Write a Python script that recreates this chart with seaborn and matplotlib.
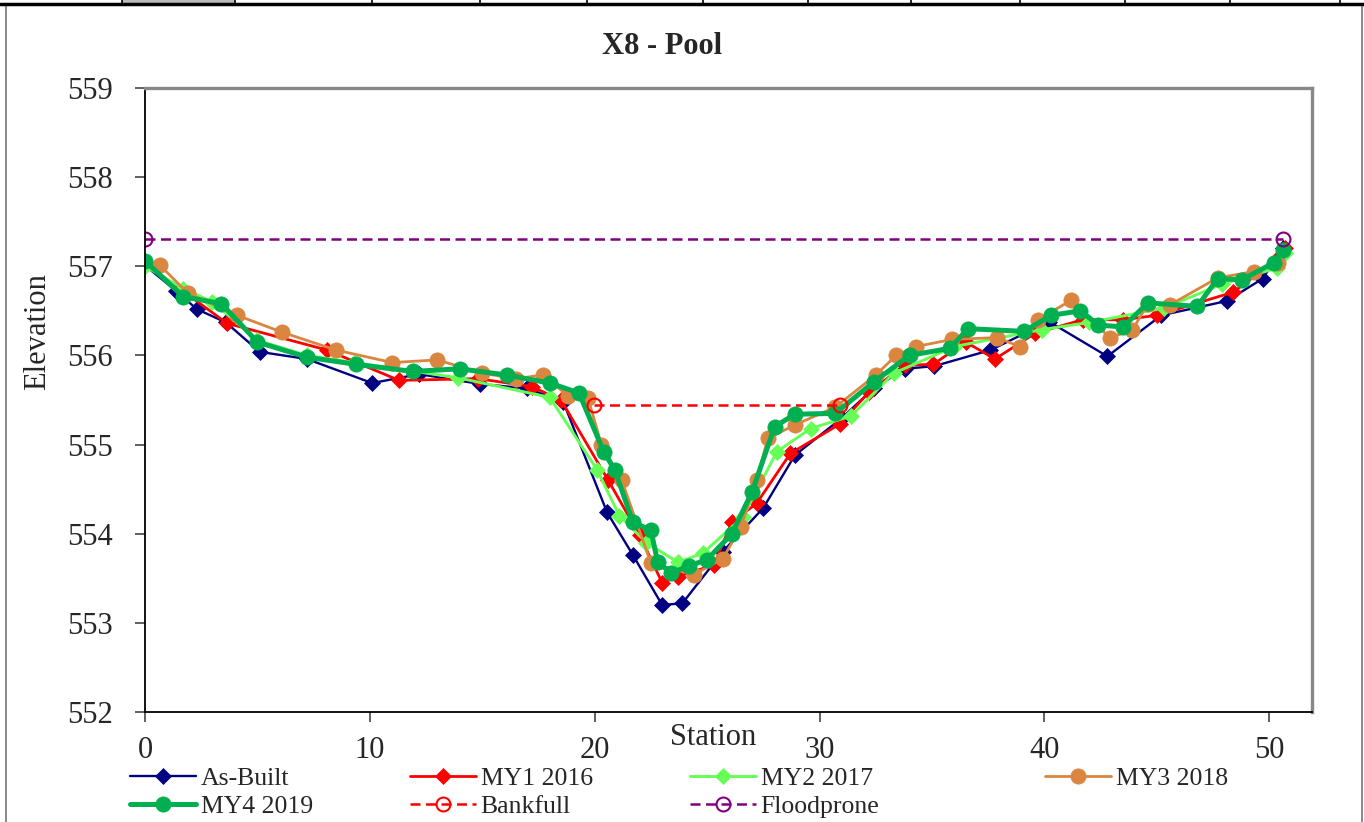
import matplotlib
matplotlib.use("Agg")
import matplotlib.pyplot as plt
from matplotlib.lines import Line2D
from matplotlib.patches import Rectangle
import seaborn as sns
import pandas as pd

# ---------------- data ----------------
asbuilt_x = [0, 1.4, 2.3, 3.6, 5.1, 7.2, 10.1, 12.2, 14.9, 17.0, 18.6, 20.55, 21.7, 23.0, 23.9, 25.7,
             27.5, 28.9, 31.0, 32.4, 33.8, 35.1, 37.6, 40.2, 42.8, 45.2, 48.1, 49.7, 50.6]
asbuilt_y = [557.01, 556.72, 556.52, 556.37, 556.04, 555.96, 555.69, 555.79, 555.68, 555.63, 555.48, 554.24,
             553.76, 553.2, 553.22, 553.8, 554.29, 554.88, 555.3, 555.63, 555.85, 555.88, 556.06, 556.38,
             555.99, 556.45, 556.61, 556.86, 557.2]

my1_x = [0, 1.7, 3.65, 8.1, 11.3, 14.8, 17.2, 18.5, 20.6, 22.0, 23.0, 23.7, 25.3, 26.1, 27.2, 28.7, 30.9,
         32.2, 33.8, 35.05, 36.5, 37.8, 39.6, 41.7, 43.5, 45.0, 48.4, 50.4, 50.7]
my1_y = [557.03, 556.72, 556.36, 556.06, 555.72, 555.74, 555.65, 555.5, 554.6, 553.98, 553.45, 553.52, 553.65,
         554.13, 554.34, 554.9, 555.23, 555.59, 555.89, 555.9, 556.15, 555.96, 556.25, 556.4, 556.4, 556.45,
         556.71, 557.09, 557.2]

my2_x = [0, 1.7, 3.0, 5.0, 7.2, 9.3, 13.9, 18.0, 20.1, 21.1, 22.3, 23.7, 24.8, 26.6, 28.1, 29.6, 31.4, 33.3,
         36.0, 39.9, 42.0, 45.3, 47.9, 50.35, 50.7]
my2_y = [557.0, 556.75, 556.6, 556.17, 556.0, 555.92, 555.75, 555.53, 554.72, 554.2, 553.9, 553.68, 553.78,
         554.19, 554.92, 555.18, 555.32, 555.8, 556.1, 556.29, 556.37, 556.53, 556.8, 556.98, 557.15]

my3_x = [0.67, 1.9, 4.1, 6.1, 8.5, 11.0, 13.0, 15.0, 16.5, 17.7, 18.8, 19.7, 20.3, 21.2, 22.5, 24.4, 25.7,
         26.5, 27.2, 27.7, 28.9, 30.7, 32.5, 33.4, 34.3, 35.9, 37.9, 38.9, 39.7, 41.2, 42.9, 43.9, 44.6,
         45.6, 47.7, 49.3, 50.4]
my3_y = [557.01, 556.7, 556.45, 556.26, 556.06, 555.92, 555.95, 555.8, 555.74, 555.78, 555.55, 555.52, 555.0,
         554.6, 553.67, 553.54, 553.72, 554.08, 554.6, 555.07, 555.22, 555.42, 555.78, 556.0, 556.1, 556.18,
         556.2, 556.1, 556.4, 556.62, 556.2, 556.28, 556.58, 556.57, 556.87, 556.94, 557.04]

my4_x = [0, 1.7, 3.4, 5.0, 7.2, 9.4, 11.9, 14.0, 16.1, 18.0, 19.3, 20.4, 20.9, 21.7, 22.5, 22.8, 23.4, 24.2,
         25.0, 26.1, 27.0, 28.0, 28.9, 30.7, 32.4, 34.0, 35.8, 36.6, 39.1, 40.3, 41.6, 42.4, 43.5, 44.6,
         46.8, 47.7, 48.8, 50.2, 50.6]
my4_y = [557.06, 556.66, 556.58, 556.15, 555.98, 555.9, 555.82, 555.85, 555.78, 555.69, 555.58, 554.92,
         554.71, 554.13, 554.04, 553.68, 553.56, 553.64, 553.71, 554.0, 554.47, 555.2, 555.34, 555.35, 555.7,
         556.0, 556.08, 556.3, 556.27, 556.45, 556.5, 556.34, 556.32, 556.59, 556.55, 556.86, 556.85, 557.04,
         557.18]

bankfull_x = [19.95, 30.9]
bankfull_y = [555.44, 555.44]
flood_x = [0, 50.6]
flood_y = [557.31, 557.31]

x_ticks = [0, 10, 20, 30, 40, 50]
y_ticks = [552, 553, 554, 555, 556, 557, 558, 559]

# ---------------- style ----------------
sns.set_style("ticks")
plt.rcParams["font.family"] = ["Liberation Serif", "DejaVu Serif"]

W, H = 1364, 822
fig = plt.figure(figsize=(W / 100, H / 100), dpi=100)
ax = fig.add_axes([145 / W, 1 - 712 / H, (1312 - 145) / W, (712 - 88) / H])

series = [
    ("As-Built", asbuilt_x, asbuilt_y, "#000080", "D", 8.5, 1.7),
    ("MY1 2016", my1_x, my1_y, "#FF0000", "D", 8.5, 2.0),
    ("MY2 2017", my2_x, my2_y, "#66FF55", "D", 8.5, 2.1),
    ("MY3 2018", my3_x, my3_y, "#DA8640", "o", 11, 2.0),
    ("MY4 2019", my4_x, my4_y, "#00B050", "o", 11, 3.6),
]
for name, xs, ys, col, mk, ms, lw in series:
    df = pd.DataFrame({"Station": xs, "Elevation": ys})
    sns.lineplot(data=df, x="Station", y="Elevation", ax=ax, sort=False, estimator=None,
                 color=col, marker=mk, markersize=ms, linewidth=lw,
                 markeredgecolor=col, markerfacecolor=col, markeredgewidth=0.5, label=name)

for name, xs, ys, col in [("Bankfull", bankfull_x, bankfull_y, "#FF0000"),
                          ("Floodprone", flood_x, flood_y, "#800080")]:
    df = pd.DataFrame({"Station": xs, "Elevation": ys})
    sns.lineplot(data=df, x="Station", y="Elevation", ax=ax, sort=False, estimator=None,
                 color=col, marker="o", markersize=10, linewidth=1.8,
                 linestyle=(0, (4, 2.2)), markeredgecolor=col, markerfacecolor="none",
                 markeredgewidth=1.5, label=name)

ax.set_xlim(0, 51.9)
ax.set_ylim(552, 559)
ax.set_xticks(x_ticks)
ax.set_yticks(y_ticks)
ax.tick_params(axis="both", labelsize=22, direction="out", length=7, width=1.2, color="#444444")
ax.tick_params(axis="x", pad=10)
ax.tick_params(axis="y", pad=16)
ax.set_xlabel("")
ax.set_ylabel("")
for s in ["left", "bottom"]:
    ax.spines[s].set_color("black")
    ax.spines[s].set_linewidth(1.3)
for s in ["top", "right"]:
    ax.spines[s].set_color("#888888")
    ax.spines[s].set_linewidth(2.4)

handles, labels = ax.get_legend_handles_labels()
if ax.legend_:
    ax.legend_.remove()
hmap = dict(zip(labels, handles))

fig.text(662 / W, 1 - 46 / H, "X8 - Pool", ha="center", va="center", fontsize=22, fontweight="bold")
fig.text(38 / W, 1 - 332 / H, "Elevation", rotation=90, ha="center", va="center", fontsize=22)
fig.text(713 / W, 1 - 737 / H, "Station", ha="center", va="center", fontsize=22)

cols = [(130, ["As-Built", "MY4 2019"]), (410, ["MY1 2016", "Bankfull"]),
        (690, ["MY2 2017", "Floodprone"]), (1045, ["MY3 2018"])]
for xpix, labs in cols:
    fig.legend([hmap[l] for l in labs], labs, loc="upper left",
               bbox_to_anchor=(xpix / W, 1 - 767 / H), frameon=False, fontsize=18.5,
               handlelength=2.55, handletextpad=0.2, borderpad=0, borderaxespad=0,
               labelspacing=0.2)

# surrounding sheet decoration
fig.add_artist(Rectangle((6 / W, -0.01), (1362 - 6) / W, 1.01 - 5 / H, transform=fig.transFigure,
                         fill=False, edgecolor="#777777", linewidth=1.2))
fig.add_artist(Rectangle((122 / W, 1 - 4 / H), (235 - 122) / W, 4 / H, transform=fig.transFigure,
                         facecolor="#BBBBBB", edgecolor="none"))
fig.add_artist(Line2D([0, 1], [1 - 4 / H, 1 - 4 / H], transform=fig.transFigure, color="black",
                      linewidth=2.5))
for xp in [122, 235, 372, 480, 587, 703, 808, 911, 1020, 1125, 1230, 1340]:
    fig.add_artist(Line2D([xp / W, xp / W], [1 - 4 / H, 1], transform=fig.transFigure,
                          color="black", linewidth=1.2))

fig.savefig("out.png", dpi=100)
